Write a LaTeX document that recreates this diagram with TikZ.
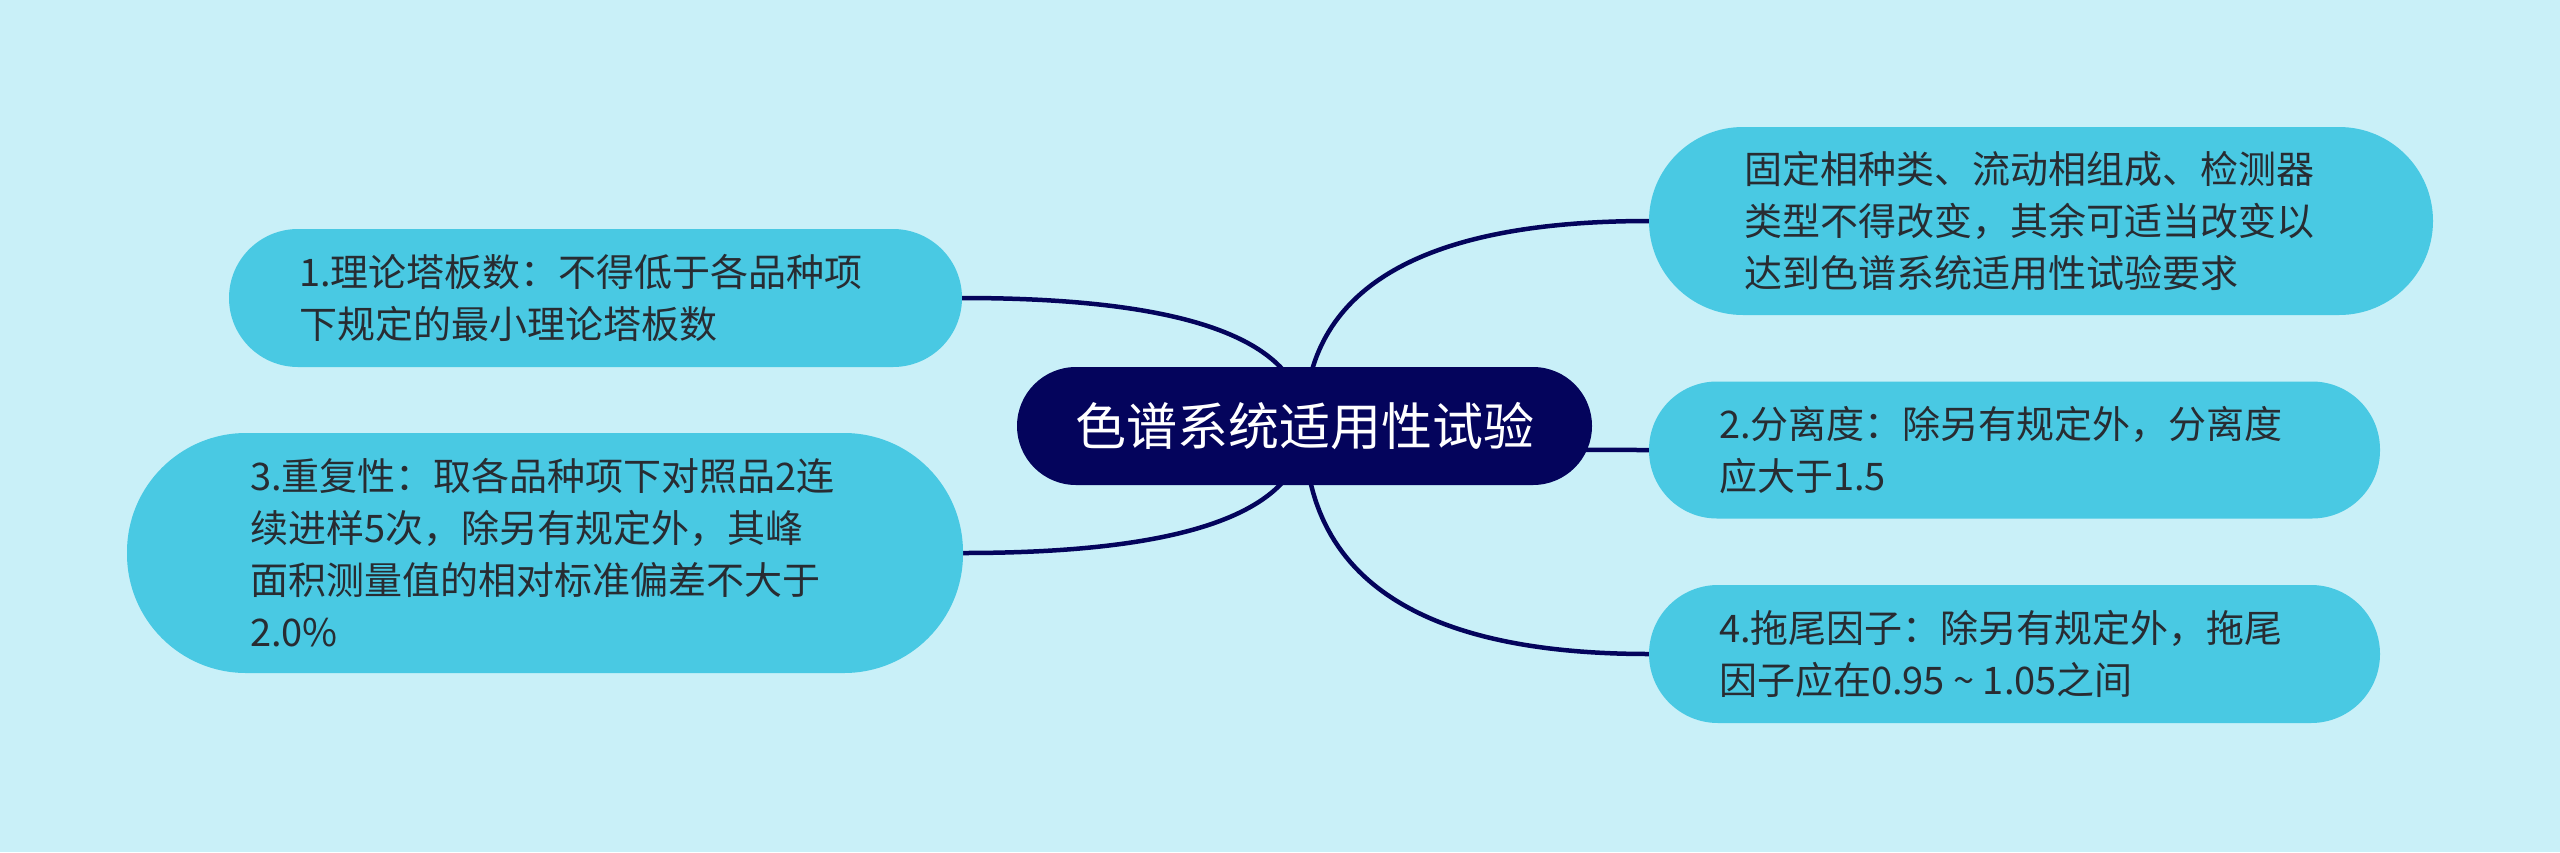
\documentclass[tikz,border=0pt]{standalone}
\usepackage{fontspec}
\newfontfamily\cjk{Noto Sans CJK SC}
\usetikzlibrary{calc,backgrounds}
\definecolor{bgc}{RGB}{201,240,248}
\definecolor{childc}{RGB}{73,201,227}
\definecolor{navy}{RGB}{4,4,92}
\definecolor{txtc}{RGB}{40,44,50}
\begin{document}
\begin{tikzpicture}[x=1pt,y=-1pt,
  childbox/.style={fill=childc, draw=none, inner sep=0pt},
  txt/.style={font=\cjk\fontsize{38}{52}\selectfont, text=txtc, align=left, inner sep=0pt, anchor=west},
  link/.style={draw=navy, line width=4.5pt}]
\useasboundingbox (0,0) rectangle (2560,852);

% central node
\node[fill=navy, draw=none, minimum width=575pt, minimum height=118pt, rounded corners=59pt,
      text=white, font=\cjk\fontsize{51}{60}\selectfont, inner sep=0pt] (c) at (1304.5,426) {色谱系统适用性试验};

% left children
\node[childbox, minimum width=733pt, minimum height=138pt, rounded corners=69pt] (tl) at (595.5,298) {};
\node[txt] (tlt) at ([xshift=70pt]tl.west) {1.理论塔板数：不得低于各品种项\\下规定的最小理论塔板数};

\node[childbox, minimum width=836pt, minimum height=240pt, rounded corners=119pt] (bl) at (545,553) {};
\node[txt] (blt) at ([xshift=123pt]bl.west) {3.重复性：取各品种项下对照品2连\\续进样5次，除另有规定外，其峰\\面积测量值的相对标准偏差不大于\\2.0\%};

% right children
\node[childbox, minimum width=784pt, minimum height=188pt, rounded corners=94pt] (tr) at (2041,221) {};
\node[txt] (trt) at ([xshift=95pt]tr.west) {固定相种类、流动相组成、检测器\\类型不得改变，其余可适当改变以\\达到色谱系统适用性试验要求};

\node[childbox, minimum width=731pt, minimum height=137pt, rounded corners=68pt] (mr) at (2014.5,450) {};
\node[txt] (mrt) at ([xshift=70pt]mr.west) {2.分离度：除另有规定外，分离度\\应大于1.5};

\node[childbox, minimum width=731pt, minimum height=138pt, rounded corners=69pt] (br) at (2014.5,654) {};
\node[txt] (brt) at ([xshift=70pt]br.west) {4.拖尾因子：除另有规定外，拖尾\\因子应在0.95 \textasciitilde{} 1.05之间};

\begin{pgfonlayer}{background}
\fill[bgc] (0,0) rectangle (2560,852);
\draw[link] (c.center) .. controls ($(c.center)!0.6667!(c.center |- tl.east)$) and ($(tl.east)!0.6667!(c.center |- tl.east)$) .. (tl.east);
\draw[link] (c.center) .. controls ($(c.center)!0.6667!(c.center |- bl.east)$) and ($(bl.east)!0.6667!(c.center |- bl.east)$) .. (bl.east);
\draw[link] (c.center) .. controls ($(c.center)!0.6667!(c.center |- tr.west)$) and ($(tr.west)!0.6667!(c.center |- tr.west)$) .. (tr.west);
\draw[link] (c.center) .. controls ($(c.center)!0.6667!(c.center |- mr.west)$) and ($(mr.west)!0.6667!(c.center |- mr.west)$) .. (mr.west);
\draw[link] (c.center) .. controls ($(c.center)!0.6667!(c.center |- br.west)$) and ($(br.west)!0.6667!(c.center |- br.west)$) .. (br.west);
\end{pgfonlayer}
\end{tikzpicture}
\end{document}
